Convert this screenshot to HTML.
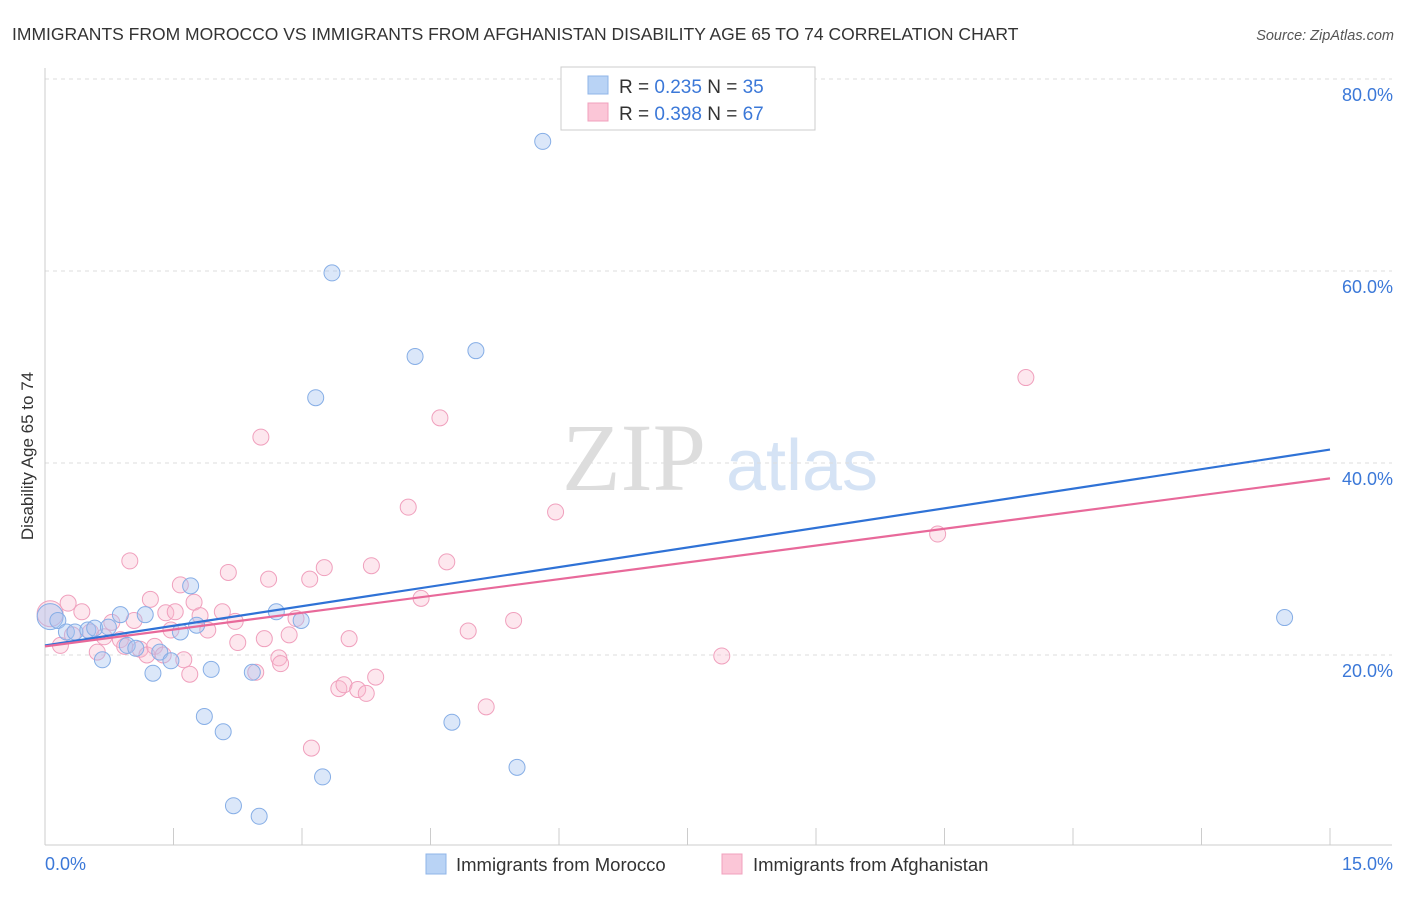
<!DOCTYPE html>
<html><head><meta charset="utf-8"><style>
body{margin:0;background:#fff;font-family:"Liberation Sans",sans-serif;}
</style></head><body>
<svg id="chart" width="1406" height="892" viewBox="0 0 1406 892" xmlns="http://www.w3.org/2000/svg" font-family="Liberation Sans, sans-serif">
<text x="12" y="40" font-size="17.5" fill="#333">IMMIGRANTS FROM MOROCCO VS IMMIGRANTS FROM AFGHANISTAN DISABILITY AGE 65 TO 74 CORRELATION CHART</text>
<text x="1394" y="40" font-size="14.5" fill="#555" font-style="italic" text-anchor="end">Source: ZipAtlas.com</text>
<g>
<text x="634" y="490" font-size="96" fill="#ddd" font-family="Liberation Serif, serif" text-anchor="middle">ZIP</text>
<text x="802" y="490" font-size="72" fill="#d5e3f5" text-anchor="middle">atlas</text>
</g>
<g id="grid"></g>
<g id="axes"></g>
<g id="marks"></g>
<text transform="translate(33,456) rotate(-90)" font-size="17" fill="#333" text-anchor="middle">Disability Age 65 to 74</text>
<g>
<rect x="561" y="67" width="254" height="63" fill="#fff" stroke="#ccc"/>
<rect x="588" y="76" width="20" height="18" fill="#b9d3f5" stroke="#8fb4e8"/>
<rect x="588" y="103" width="20" height="18" fill="#fbc6d7" stroke="#f0a0bd"/>
<text x="619" y="93" font-size="19" fill="#333">R = <tspan fill="#3b78d8">0.235</tspan>   N = <tspan fill="#3b78d8">35</tspan></text>
<text x="619" y="120" font-size="19" fill="#333">R = <tspan fill="#3b78d8">0.398</tspan>   N = <tspan fill="#3b78d8">67</tspan></text>
</g>
<g>
<rect x="426" y="854" width="20" height="20" fill="#b9d3f5" stroke="#8fb4e8"/>
<text x="456" y="871" font-size="18.5" fill="#333">Immigrants from Morocco</text>
<rect x="722" y="854" width="20" height="20" fill="#fbc6d7" stroke="#f0a0bd"/>
<text x="753" y="871" font-size="18.5" fill="#333">Immigrants from Afghanistan</text>
</g>
</svg>
<script>
const yTicks=[20,40,60,80];
const yTickLabels=["20.0%","40.0%","60.0%","80.0%"];
const xEndLabels=["0.0%","15.0%"];
const moroccoX=[0.06,0.15,0.25,0.35,0.50,0.58,0.67,0.74,0.88,0.96,1.06,1.17,1.26,1.34,1.47,1.58,1.70,1.77,1.86,1.94,2.08,2.20,2.42,2.50,2.70,2.99,3.16,3.24,3.35,4.32,4.75,5.03,5.51,5.81,14.47];
const moroccoY=[24.0,23.6,22.4,22.4,22.6,22.8,19.5,22.9,24.2,21.0,20.7,24.2,18.1,20.3,19.4,22.4,27.2,23.1,13.6,18.5,12.0,4.3,18.2,3.2,24.5,23.6,46.8,7.3,59.8,51.1,13.0,51.7,8.3,73.5,23.9];
const afghanX=[0.06,0.18,0.27,0.32,0.43,0.53,0.61,0.69,0.78,0.88,0.93,0.99,1.04,1.11,1.19,1.23,1.28,1.38,1.41,1.47,1.52,1.58,1.62,1.69,1.74,1.81,1.90,2.07,2.14,2.22,2.25,2.46,2.52,2.56,2.61,2.73,2.75,2.85,2.93,3.09,3.11,3.26,3.43,3.49,3.55,3.65,3.75,3.81,3.86,4.24,4.39,4.61,4.69,4.94,5.15,5.47,5.96,7.90,10.42,11.45];
const afghanY=[24.3,21.0,25.4,22.1,24.5,22.4,20.3,21.9,23.4,21.6,20.9,29.8,23.6,20.6,20.0,25.8,20.9,20.0,24.4,22.6,24.5,27.3,19.5,18.0,25.5,24.1,22.6,24.5,28.6,23.5,21.3,18.2,42.7,21.7,27.9,19.7,19.1,22.1,23.8,27.9,10.3,29.1,16.5,16.9,21.7,16.4,16.0,29.3,17.7,35.4,25.9,44.7,29.7,22.5,14.6,23.6,34.9,19.9,32.6,48.9];
const moroccoTrend=[21.0,41.4];
const afghanTrend=[20.9,38.4];
const NS="http://www.w3.org/2000/svg";
const X=v=>45+v*(1285/15);
const Y=v=>847-v*9.6;
function mk(tag,attrs,parent){const e=document.createElementNS(NS,tag);for(const k in attrs)e.setAttribute(k,attrs[k]);parent.appendChild(e);return e;}
const grid=document.getElementById('grid'),axes=document.getElementById('axes'),marks=document.getElementById('marks');
yTicks.forEach((t,i)=>{
 const l=mk('line',{x1:45,x2:1392,y1:Y(t),y2:Y(t),stroke:'#ddd','stroke-dasharray':'4,4'},grid);
 
 
 const tx=mk('text',{x:1393,y:Y(t)+22,'font-size':18,fill:'#3b78d8','text-anchor':'end'},axes);
 tx.textContent=yTickLabels[i];
 
 
});
const ax=mk('line',{x1:45,x2:45,y1:68,y2:845,stroke:'#ccc'},axes);


const bx=mk('line',{x1:45,x2:1392,y1:845,y2:845,stroke:'#ccc'},axes);


for(let i=1;i<=10;i++){
 const t=mk('line',{x1:X(i*1.5),x2:X(i*1.5),y1:828,y2:845,stroke:'#ccc'},axes);
 
 
}
[[0,'start',45],[15,'end',1393]].forEach((d,i)=>{
 const t=mk('text',{x:d[2],y:870,'font-size':18,fill:'#3b78d8','text-anchor':d[1]},axes);
 t.textContent=xEndLabels[i];
 
 
});
function pts(xs,ys,fill,stroke,name){
 xs.forEach((x,i)=>{
  const c=mk('circle',{cx:X(x),cy:Y(ys[i]),r:i===0?13:8,fill:fill,stroke:stroke,'stroke-width':1},marks);
  
  
 });
}
pts(afghanX,afghanY,'rgba(248,185,205,0.35)','#f0a0bd','afghanistan-point');
pts(moroccoX,moroccoY,'rgba(164,196,240,0.4)','#86aee6','morocco-point');
const tb=mk('line',{x1:X(0),x2:X(15),y1:Y(moroccoTrend[0]),y2:Y(moroccoTrend[1]),stroke:'#2f72d6','stroke-width':2.2},marks);


const tp=mk('line',{x1:X(0),x2:X(15),y1:Y(afghanTrend[0]),y2:Y(afghanTrend[1]),stroke:'#e8699a','stroke-width':2.2},marks);


</script>
</body></html>
